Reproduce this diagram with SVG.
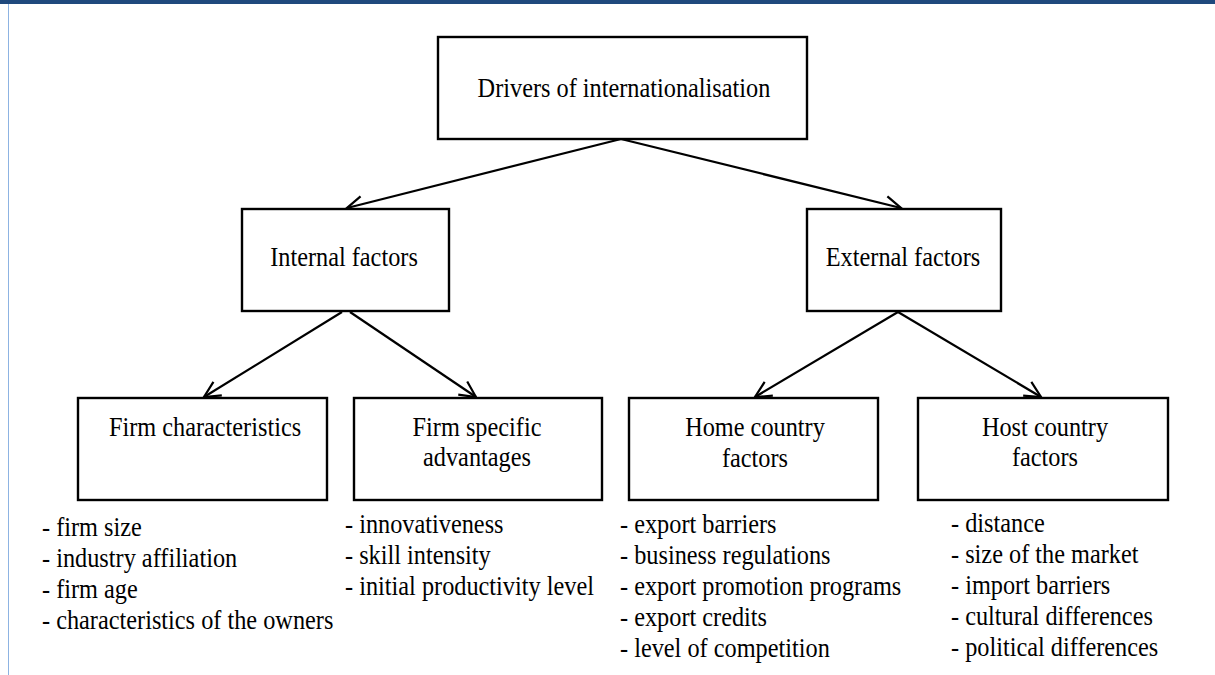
<svg xmlns="http://www.w3.org/2000/svg" width="1215" height="675" viewBox="0 0 1215 675">
<style>
.box{fill:#fff;stroke:#000;stroke-width:2.4}
.t{font-family:"Liberation Serif","Times New Roman",serif;font-size:24.3px;fill:#000}
.c{text-anchor:middle}
.conn line{stroke:#000;stroke-width:2.2;marker-end:url(#arr)}
</style>
<defs>
<marker id="arr" markerUnits="userSpaceOnUse" markerWidth="24" markerHeight="24" refX="18" refY="10" orient="auto" viewBox="0 0 24 20">
<path d="M2 2 L18 10 L2 18" fill="none" stroke="#000" stroke-width="2.2"/>
</marker>
</defs>
<rect x="0" y="0" width="1215" height="675" fill="#fff"/>
<rect x="0" y="0" width="1215" height="4" fill="#1F497D"/>
<line x1="8.5" y1="4" x2="8.5" y2="675" stroke="#8DB3E2" stroke-width="1"/>

<g id="connectors" class="conn">
<line x1="621" y1="139" x2="347" y2="208"/>
<line x1="621" y1="139" x2="901" y2="208"/>
<line x1="342" y1="312" x2="204" y2="397"/>
<line x1="350" y1="312" x2="476" y2="397"/>
<line x1="898" y1="312" x2="755" y2="397"/>
<line x1="898" y1="312" x2="1041" y2="397"/>
</g>

<g id="drivers">
<rect class="box" x="438" y="37" width="369" height="102"/>
<text class="t c" transform="translate(624,97) scale(1,1.08)">Drivers of internationalisation</text>
</g>
<g id="internal">
<rect class="box" x="242" y="209" width="207" height="102"/>
<text class="t c" transform="translate(344,266) scale(1,1.08)">Internal factors</text>
</g>
<g id="external">
<rect class="box" x="807" y="209" width="194" height="102"/>
<text class="t c" transform="translate(903,266) scale(1,1.08)">External factors</text>
</g>
<g id="firm-characteristics">
<rect class="box" x="78" y="398" width="249" height="102"/>
<text class="t c" transform="translate(205,436) scale(1,1.08)">Firm characteristics</text>
<text class="t" transform="translate(42,536) scale(1,1.08)"><tspan x="0" y="0">- firm size</tspan><tspan x="0" dy="28.7">- industry affiliation</tspan><tspan x="0" dy="28.7">- firm age</tspan><tspan x="0" dy="28.7">- characteristics of the owners</tspan></text>
</g>
<g id="firm-specific">
<rect class="box" x="354" y="398" width="248" height="102"/>
<text class="t c" transform="translate(477,436) scale(1,1.08)"><tspan x="0" y="0">Firm specific</tspan><tspan x="0" dy="27.8">advantages</tspan></text>
<text class="t" transform="translate(345,533) scale(1,1.08)"><tspan x="0" y="0">- innovativeness</tspan><tspan x="0" dy="28.7">- skill intensity</tspan><tspan x="0" dy="28.7">- initial productivity level</tspan></text>
</g>
<g id="home-country">
<rect class="box" x="629" y="398" width="249" height="102"/>
<text class="t c" transform="translate(755,436) scale(1,1.08)"><tspan x="0" y="0">Home country</tspan><tspan x="0" dy="28.3">factors</tspan></text>
<text class="t" transform="translate(620,533) scale(1,1.08)"><tspan x="0" y="0">- export barriers</tspan><tspan x="0" dy="28.7">- business regulations</tspan><tspan x="0" dy="28.7">- export promotion programs</tspan><tspan x="0" dy="28.7">- export credits</tspan><tspan x="0" dy="28.7">- level of competition</tspan></text>
</g>
<g id="host-country">
<rect class="box" x="918" y="398" width="250" height="102"/>
<text class="t c" transform="translate(1045,436) scale(1,1.08)"><tspan x="0" y="0">Host country</tspan><tspan x="0" dy="27.8">factors</tspan></text>
<text class="t" transform="translate(951,532) scale(1,1.08)"><tspan x="0" y="0">- distance</tspan><tspan x="0" dy="28.7">- size of the market</tspan><tspan x="0" dy="28.7">- import barriers</tspan><tspan x="0" dy="28.7">- cultural differences</tspan><tspan x="0" dy="28.7">- political differences</tspan></text>
</g>
</svg>
